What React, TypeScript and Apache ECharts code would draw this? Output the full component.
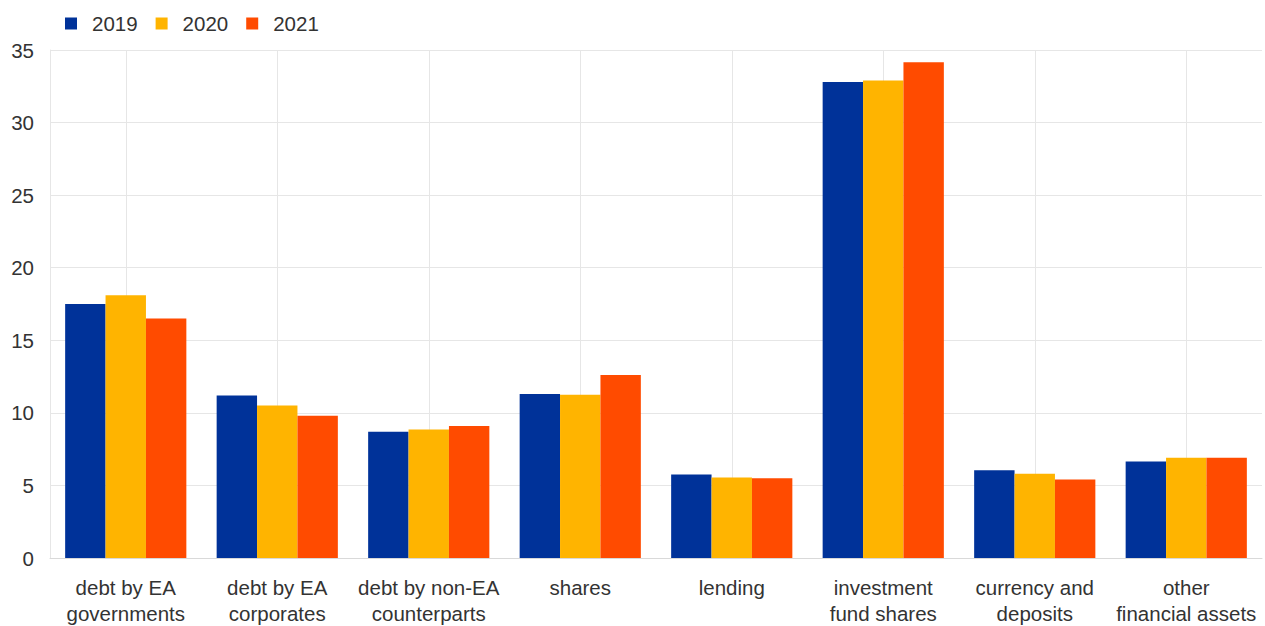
import React, { useEffect, useRef } from "react";
import * as echarts from "echarts";

const categories = [
  "debt by EA\ngovernments",
  "debt by EA\ncorporates",
  "debt by non-EA\ncounterparts",
  "shares",
  "lending",
  "investment\nfund shares",
  "currency and\ndeposits",
  "other\nfinancial assets",
];
const yearNames = ["2019", "2020", "2021"];
const values2019 = [17.5, 11.2, 8.7, 11.3, 5.75, 32.8, 6.05, 6.65];
const values2020 = [18.1, 10.5, 8.85, 11.25, 5.55, 32.9, 5.8, 6.9];
const values2021 = [16.5, 9.8, 9.1, 12.6, 5.5, 34.15, 5.4, 6.9];
const yTicks = { min: 0, max: 35, interval: 5 };
const colors = ["#003299", "#FFB400", "#FF4B00"];

export default function App() {
  const ref = useRef<HTMLDivElement>(null);
  useEffect(() => {
    document.body.style.margin = "0";
    const chart = echarts.init(ref.current!, undefined, { renderer: "svg" });
    const font = "Liberation Sans, Arial, sans-serif";
    const series = [values2019, values2020, values2021].map((d, i) => ({
      name: yearNames[i],
      type: "bar" as const,
      data: d,
      barGap: "0%",
      barCategoryGap: "20%",
      itemStyle: { color: colors[i] },
    }));
    chart.setOption({
      animation: false,
      color: colors,
      textStyle: { fontFamily: font },
      legend: {
        left: 60,
        top: 8,
        icon: "rect",
        itemWidth: 12,
        itemHeight: 12,
        itemGap: 18,
        textStyle: { fontSize: 20.5, color: "#333", padding: [0, 0, 0, 10], fontFamily: font },
        data: yearNames,
      },
      grid: { left: 50, right: 3, top: 50, bottom: 68, containLabel: false },
      xAxis: {
        type: "category",
        data: categories,
        axisLine: { show: true, lineStyle: { color: "#d9d9d9" } },
        axisTick: { show: false },
        axisLabel: {
          interval: 0,
          fontSize: 20.5,
          lineHeight: 26,
          color: "#333",
          margin: 16,
          fontFamily: font,
        },
        splitLine: { show: true, alignWithLabel: true, lineStyle: { color: "#e6e6e6" } } as any,
      },
      yAxis: {
        type: "value",
        min: yTicks.min,
        max: yTicks.max,
        interval: yTicks.interval,
        axisLine: { show: true, lineStyle: { color: "#e6e6e6" } },
        axisTick: { show: false },
        axisLabel: { fontSize: 20.5, color: "#333", margin: 16, fontFamily: font },
        splitLine: { show: true, lineStyle: { color: "#e6e6e6" } },
      },
      series,
    });
    return () => chart.dispose();
  }, []);
  return <div ref={ref} style={{ width: 1265, height: 626 }} />;
}
